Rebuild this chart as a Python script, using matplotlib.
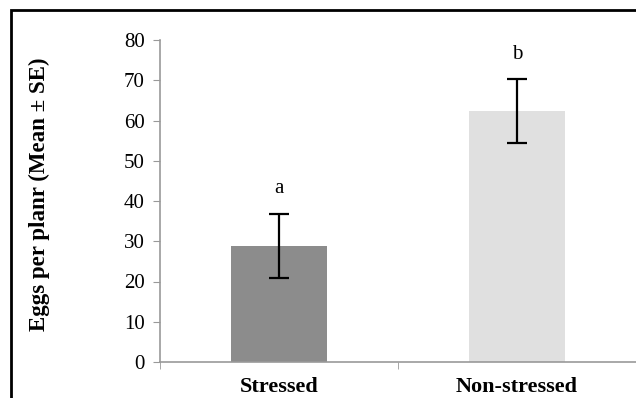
import matplotlib
matplotlib.use("Agg")
import matplotlib.pyplot as plt
from matplotlib.patches import Rectangle

categories = ["Stressed", "Non-stressed"]
means = [28.8, 62.3]
se = [8.0, 7.9]
letters = ["a", "b"]
colors = ["#8c8c8c", "#e0e0e0"]
yticks = [0, 10, 20, 30, 40, 50, 60, 70, 80]

plt.rcParams['font.family'] = ['Liberation Serif', 'DejaVu Serif']

fig = plt.figure(figsize=(6.36, 3.98), dpi=100)
ax = fig.add_axes([160/636, 1-362/398, 1-160/636, (362-40)/398])

x = list(range(len(categories)))
ax.bar(x, means, width=0.4, color=colors, zorder=2)
ax.errorbar(x, means, yerr=se, fmt='none', ecolor='black', elinewidth=1.6,
            capsize=7, capthick=1.6, zorder=3)
for xi, m, s, l in zip(x, means, se, letters):
    ax.text(xi, m + s + 6.3, l, ha='center', va='center', fontsize=15)

ax.set_xlim(-0.5, 1.5)
ax.set_ylim(0, 80)
ax.set_yticks(yticks)
ax.set_yticklabels([str(v) for v in yticks], fontsize=15)
ax.set_xticks(x)
ax.set_xticklabels(categories, fontsize=16, fontweight='bold')
ax.tick_params(axis='x', which='major', length=0, pad=11)
ax.set_xticks([-0.5, 0.5, 1.5], minor=True)
ax.tick_params(axis='x', which='minor', length=5, color='#999999', direction='out')
ax.tick_params(axis='y', length=5, color='#999999', direction='out', pad=6)
for sp in ['top', 'right']:
    ax.spines[sp].set_visible(False)
for sp in ['left', 'bottom']:
    ax.spines[sp].set_color('#999999')
    ax.spines[sp].set_linewidth(1.2)
ax.set_ylabel("Eggs per planr (Mean ± SE)", fontsize=16.5, fontweight='bold')
ax.yaxis.set_label_coords(-0.232, 0.52)

fig.patches.append(Rectangle((11/636, -0.1), 1.2, 1 - 10/398 + 0.1, transform=fig.transFigure,
                             fill=False, edgecolor='black', linewidth=2, zorder=10))

fig.savefig("out.png", dpi=100)
